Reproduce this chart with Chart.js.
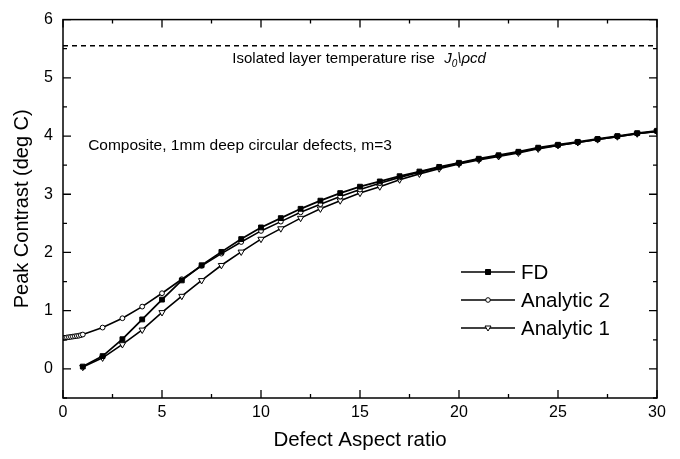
<!DOCTYPE html>
<html>
<head>
<meta charset="utf-8">
<script src="https://cdn.jsdelivr.net/npm/chart.js@4/dist/chart.umd.min.js"></script>
<style>
  html, body { margin: 0; padding: 0; background: #fff; }
  #wrap { width: 680px; height: 459px; }
</style>
</head>
<body>
<div id="wrap"><canvas id="c" width="680" height="459"></canvas></div>
<script>
// ---- data ----
const fdX   = [1,2,3,4,5,6,7,8,9,10,11,12,13,14,15,16,17,18,19,20,21,22,23,24,25,26,27,28,29,30];
const fdY   = [0.04,0.22,0.51,0.85,1.19,1.52,1.78,2.01,2.23,2.43,2.59,2.75,2.89,3.02,3.13,3.22,3.31,3.39,3.47,3.54,3.61,3.67,3.73,3.80,3.85,3.90,3.95,4.00,4.05,4.09];
const an2X  = [0,0.1,0.2,0.3,0.4,0.5,0.6,0.7,0.8,0.9,1,2,3,4,5,6,7,8,9,10,11,12,13,14,15,16,17,18,19,20,21,22,23,24,25,26,27,28,29,30];
const an2Y  = [0.53,0.535,0.54,0.545,0.55,0.555,0.56,0.565,0.57,0.58,0.59,0.71,0.87,1.07,1.30,1.54,1.77,1.98,2.18,2.37,2.53,2.69,2.83,2.96,3.08,3.19,3.29,3.38,3.46,3.53,3.60,3.66,3.72,3.79,3.84,3.89,3.94,3.99,4.04,4.08];
const an1X  = [1,2,3,4,5,6,7,8,9,10,11,12,13,14,15,16,17,18,19,20,21,22,23,24,25,26,27,28,29,30];
const an1Y  = [0.03,0.19,0.42,0.67,0.97,1.25,1.52,1.78,2.01,2.23,2.41,2.59,2.75,2.89,3.02,3.13,3.25,3.35,3.44,3.52,3.59,3.65,3.71,3.78,3.84,3.89,3.94,3.99,4.04,4.08];
const isolatedX = [0, 30];
const isolatedY = [5.55, 5.55];
const seriesLabels = ['FD', 'Analytic 2', 'Analytic 1'];
const xTitle = 'Defect Aspect ratio';
const yTitle = 'Peak Contrast (deg C)';
const noteIsolated = 'Isolated layer temperature rise';
const noteComposite = 'Composite, 1mm deep circular defects, m=3';

const pts = (xs, ys) => xs.map((x, i) => ({x: x, y: ys[i]}));
const FONT = "'Liberation Sans', Arial, sans-serif";

const framePlugin = {
  id: 'frame',
  afterDraw(chart) {
    const ctx = chart.ctx, a = chart.chartArea;
    const xs = chart.scales.x, ys = chart.scales.y;
    ctx.save();
    ctx.strokeStyle = '#000';
    ctx.lineWidth = 1.5;
    ctx.strokeRect(a.left, a.top, a.right - a.left, a.bottom - a.top);
    ctx.lineWidth = 1.3;
    ctx.beginPath();
    for (let v = 0; v <= 30.001; v += 2.5) {
      const p = xs.getPixelForValue(v);
      const len = (Math.abs(v % 5) < 1e-6) ? 8 : 4;
      ctx.moveTo(p, a.bottom); ctx.lineTo(p, a.bottom - len);
      ctx.moveTo(p, a.top); ctx.lineTo(p, a.top + len);
    }
    for (let v = -0.5; v <= 6.001; v += 0.5) {
      const p = ys.getPixelForValue(v);
      const len = (Math.abs(v - Math.round(v)) < 1e-6) ? 8 : 4;
      ctx.moveTo(a.left, p); ctx.lineTo(a.left + len, p);
      ctx.moveTo(a.right, p); ctx.lineTo(a.right - len, p);
    }
    ctx.stroke();

    // annotations
    ctx.fillStyle = '#000';
    ctx.textBaseline = 'middle';
    ctx.textAlign = 'left';
    ctx.font = '15px ' + FONT;
    let tx = xs.getPixelForValue(8.55), ty = ys.getPixelForValue(5.33);
    ctx.fillText(noteIsolated, tx, ty);
    tx += ctx.measureText(noteIsolated + '  ').width + 1;
    ctx.font = 'italic 15px ' + FONT;
    ctx.fillText('J', tx, ty);
    tx += ctx.measureText('J').width;
    ctx.font = 'italic 10px ' + FONT;
    ctx.fillText('0', tx, ty + 6);
    tx += ctx.measureText('0').width;
    ctx.font = 'italic 15px ' + FONT;
    ctx.fillText('\\\u03C1cd', tx, ty);

    ctx.font = '15.5px ' + FONT;
    ctx.fillText(noteComposite, xs.getPixelForValue(1.27), ys.getPixelForValue(3.84));

    // legend
    const lx0 = 461, lx1 = 515, ltx = 521;
    const lys = [272, 300, 328];
    chart.data.datasets.forEach((ds, i) => {
      if (i > 2) return;
      const y = lys[i];
      ctx.lineWidth = 1.7;
      ctx.strokeStyle = '#000';
      ctx.beginPath(); ctx.moveTo(lx0, y); ctx.lineTo(lx1, y); ctx.stroke();
      const mx = (lx0 + lx1) / 2;
      ctx.lineWidth = 1;
      ctx.fillStyle = ds.pointBackgroundColor;
      ctx.beginPath();
      if (ds.pointStyle === 'rect') {
        ctx.rect(mx - 2.5, y - 2.5, 5, 5);
      } else if (ds.pointStyle === 'circle') {
        ctx.arc(mx, y, 2.3, 0, Math.PI * 2);
      } else {
        ctx.moveTo(mx - 3, y - 2); ctx.lineTo(mx + 3, y - 2); ctx.lineTo(mx, y + 3); ctx.closePath();
      }
      ctx.fill(); ctx.stroke();
      ctx.fillStyle = '#000';
      ctx.font = '20.5px ' + FONT;
      ctx.fillText(ds.label, ltx, y + 1);
    });
    ctx.restore();
  }
};

new Chart(document.getElementById('c'), {
  type: 'line',
  data: {
    datasets: [
      { label: seriesLabels[0], data: pts(fdX, fdY), borderColor: '#000', borderWidth: 1.8,
        pointStyle: 'rect', pointRadius: 3.4, pointBackgroundColor: '#000', pointBorderColor: '#000', pointBorderWidth: 1, tension: 0 },
      { label: seriesLabels[1], data: pts(an2X, an2Y), borderColor: '#000', borderWidth: 1.6,
        pointStyle: 'circle', pointRadius: 2.4, pointBackgroundColor: '#fff', pointBorderColor: '#000', pointBorderWidth: 1, tension: 0 },
      { label: seriesLabels[2], data: pts(an1X, an1Y), borderColor: '#000', borderWidth: 1.6,
        pointStyle: 'triangle', pointRotation: 180, pointRadius: 3.6, pointBackgroundColor: '#fff', pointBorderColor: '#000', pointBorderWidth: 1, tension: 0 },
      { label: 'isolated', data: pts(isolatedX, isolatedY), borderColor: '#000', borderWidth: 1.4,
        borderDash: [5, 4], pointRadius: 0, tension: 0 }
    ]
  },
  options: {
    responsive: false,
    animation: false,
    layout: { padding: { top: 14, right: 23, left: 0, bottom: 0 } },
    plugins: { legend: { display: false }, tooltip: { enabled: false } },
    scales: {
      x: {
        type: 'linear', min: 0, max: 30,
        ticks: { stepSize: 5, color: '#000', font: { family: FONT, size: 16 }, padding: 5, maxRotation: 0 },
        grid: { display: false, drawTicks: false },
        border: { display: false },
        title: { display: true, text: xTitle, color: '#000', font: { family: FONT, size: 20.5 }, padding: { top: 0, bottom: 6 } },
        afterFit(s) { s.height = 61; }
      },
      y: {
        type: 'linear', min: -0.5, max: 6,
        ticks: { stepSize: 1, color: '#000', font: { family: FONT, size: 16 }, padding: 10,
          callback: v => Number.isInteger(v) ? String(v) : '' },
        grid: { display: false, drawTicks: false },
        border: { display: false },
        title: { display: true, text: yTitle, color: '#000', font: { family: FONT, size: 20 }, padding: { top: 10, bottom: 0 } },
        afterFit(s) { s.width = 63; }
      }
    }
  },
  plugins: [framePlugin]
});
</script>
</body>
</html>
